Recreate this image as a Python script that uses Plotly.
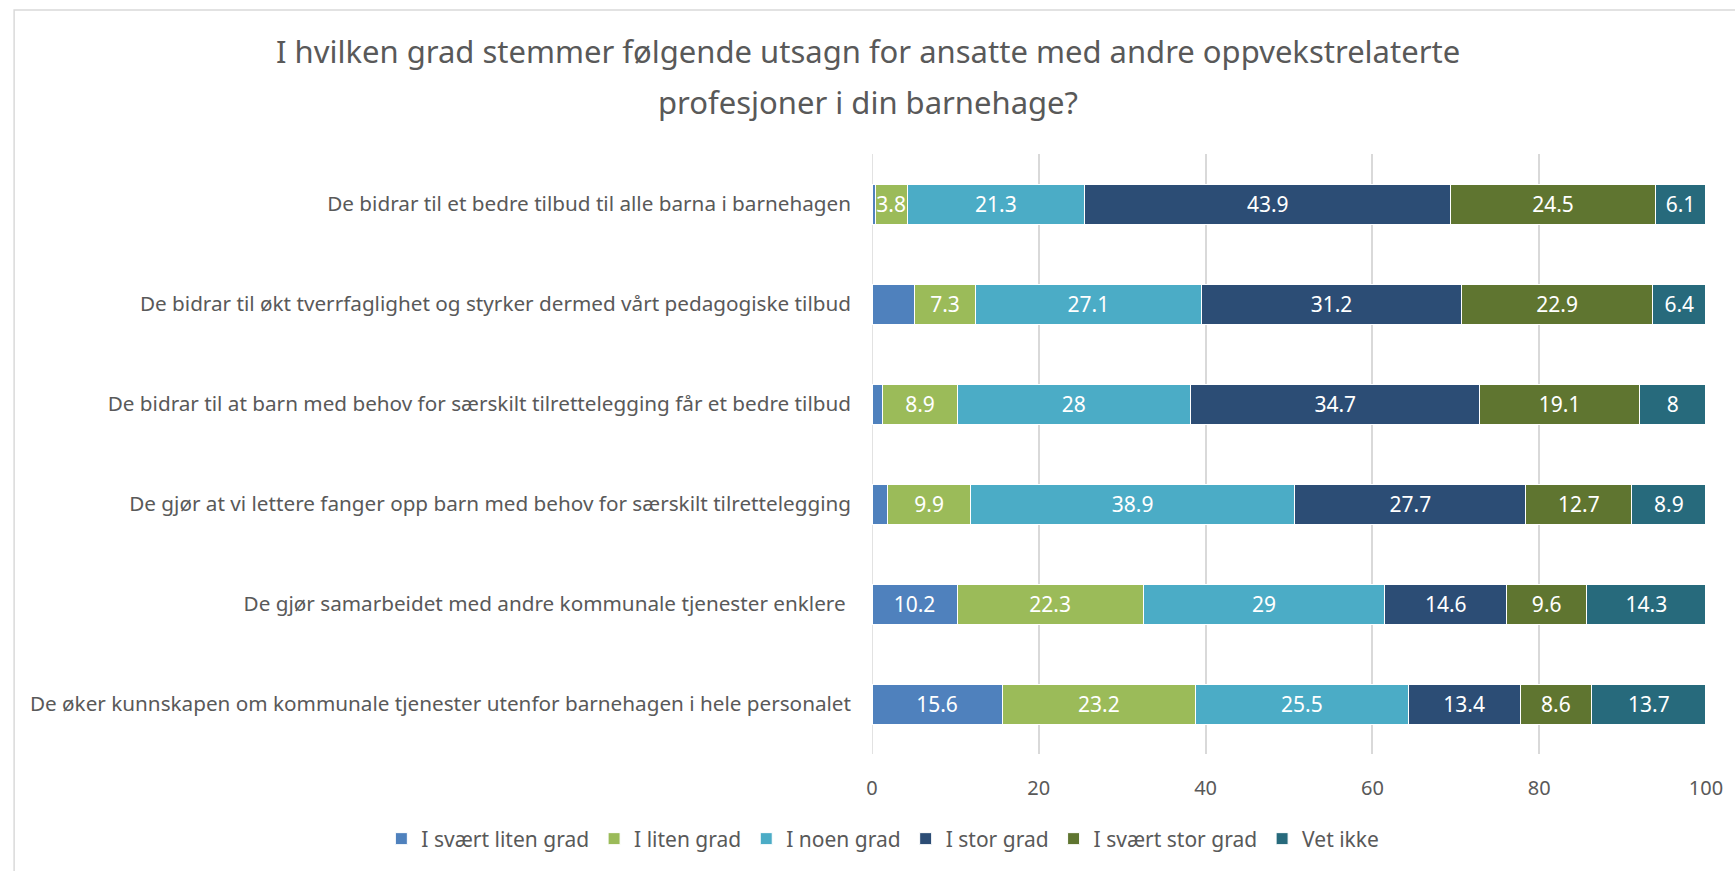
import plotly.graph_objects as go

categories = [
    "De bidrar til et bedre tilbud til alle barna i barnehagen",
    "De bidrar til økt tverrfaglighet og styrker dermed vårt pedagogiske tilbud",
    "De bidrar til at barn med behov for særskilt tilrettelegging får et bedre tilbud",
    "De gjør at vi lettere fanger opp barn med behov for særskilt tilrettelegging",
    "De gjør samarbeidet med andre kommunale tjenester enklere ",
    "De øker kunnskapen om kommunale tjenester utenfor barnehagen i hele personalet",
]
series_names = ["I svært liten grad", "I liten grad", "I noen grad", "I stor grad", "I svært stor grad", "Vet ikke"]
svaert_liten = [0.4, 5.1, 1.3, 1.9, 10.2, 15.6]
liten = [3.8, 7.3, 8.9, 9.9, 22.3, 23.2]
noen = [21.3, 27.1, 28, 38.9, 29, 25.5]
stor = [43.9, 31.2, 34.7, 27.7, 14.6, 13.4]
svaert_stor = [24.5, 22.9, 19.1, 12.7, 9.6, 8.6]
vet_ikke = [6.1, 6.4, 8, 8.9, 14.3, 13.7]
x_ticks = [0, 20, 40, 60, 80, 100]
title_lines = ["I hvilken grad stemmer følgende utsagn for ansatte med andre oppvekstrelaterte",
               "profesjoner i din barnehage?"]

colors = ["#4F81BD", "#9BBB59", "#4BACC6", "#2C4D75", "#5F7530", "#276A7C"]
all_values = [svaert_liten, liten, noen, stor, svaert_stor, vet_ikke]
# labels hidden in the original for the unlabelled first segments
label_show = [[False, False, False, False, True, True]] + [[True] * 6] * 5

FONT = "Noto Sans"
fig = go.Figure()
for name, vals, col, show in zip(series_names, all_values, colors, label_show):
    texts = [f"{v:g}" if s else "" for v, s in zip(vals, show)]
    fig.add_trace(go.Bar(
        name=name, y=categories, x=vals, orientation="h",
        marker=dict(color=col, line=dict(color="white", width=1)),
        text=texts, textposition="inside", insidetextanchor="middle",
        textangle=0, insidetextfont=dict(color="white", size=21, family=FONT),
        constraintext="none", hoverinfo="x+name",
    ))

fig.update_layout(
    barmode="stack",
    bargap=0.6,
    width=1735, height=871,
    margin=dict(l=872, r=25, t=154, b=117),
    paper_bgcolor="white", plot_bgcolor="white",
    font=dict(family=FONT, color="#595959", size=20),
    xaxis=dict(
        range=[0, 100.001], tickvals=x_ticks, showgrid=True, gridcolor="#D9D9D9", gridwidth=1.5,
        zeroline=False, showline=False, tickfont=dict(size=20, color="#595959"),
        ticks="", fixedrange=True, ticklabelstandoff=20,
    ),
    yaxis=dict(
        autorange="reversed", showgrid=False, showline=False, ticks="",
        tickfont=dict(size=20.7, color="#595959"), ticklabelstandoff=20,
    ),
    legend=dict(
        orientation="h", xref="paper", x=(379 - 872) / 838, xanchor="left",
        yref="paper", y=(754 - 839) / 600, yanchor="middle",
        font=dict(size=21, color="#595959"), traceorder="normal",
        itemclick=False, itemwidth=30,
    ),
    showlegend=True,
    shapes=[dict(
        type="rect", xref="paper", yref="paper",
        x0=(10 - 872) / 838, x1=1.1, y0=-0.3, y1=(754 - 10) / 600,
        line=dict(color="#D9D9D9", width=1.5), fillcolor="rgba(0,0,0,0)", layer="below",
    )],
)
for line, ypx in zip(title_lines, [51, 102]):
    fig.add_annotation(
        text=line, xref="paper", yref="paper",
        x=(868 - 872) / 838, y=(754 - ypx) / 600, xanchor="center", yanchor="middle",
        showarrow=False, font=dict(size=31, color="#595959", family=FONT),
    )
fig.add_vline(x=0, line=dict(color="#D9D9D9", width=1.5), layer="below")

fig.write_html("out.html", config={"displayModeBar": False},
               post_script="document.body.style.margin='0';")
